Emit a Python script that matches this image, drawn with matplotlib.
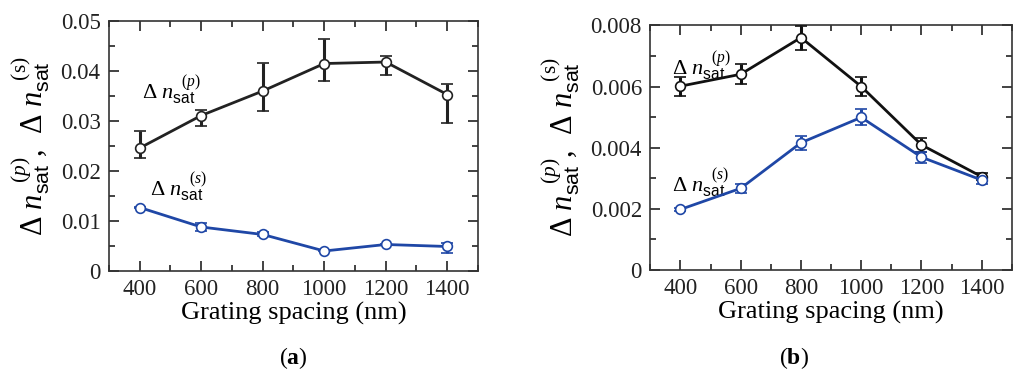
import matplotlib
matplotlib.use("Agg")
from matplotlib import pyplot as plt
from matplotlib.ticker import MultipleLocator, FuncFormatter

plt.rcParams['font.family'] = 'Liberation Serif'
plt.rcParams['mathtext.fontset'] = 'custom'
plt.rcParams['mathtext.rm'] = 'Liberation Serif'
plt.rcParams['mathtext.it'] = 'Liberation Serif:italic'
plt.rcParams['mathtext.bf'] = 'Liberation Serif:bold'
plt.rcParams['mathtext.sf'] = 'Liberation Sans'

spacing = [400, 600, 800, 1000, 1200, 1400]

# panel (a)
a_p = [0.0246, 0.0311, 0.0360, 0.0415, 0.0418, 0.0353]
a_p_lo = [0.0226, 0.0290, 0.0321, 0.0380, 0.0392, 0.0297]
a_p_hi = [0.0280, 0.0323, 0.0417, 0.0465, 0.0431, 0.0375]
a_s = [0.0127, 0.0088, 0.0073, 0.0040, 0.0053, 0.0049]
a_s_lo = [0.0126, 0.0080, 0.0069, 0.0039, 0.0052, 0.0036]
a_s_hi = [0.0128, 0.0096, 0.0077, 0.0041, 0.0054, 0.0055]

# panel (b)
b_p = [0.00601, 0.00640, 0.00760, 0.00600, 0.00409, 0.00305]
b_p_lo = [0.00569, 0.00607, 0.00719, 0.00569, 0.00387, 0.00294]
b_p_hi = [0.00631, 0.00672, 0.00798, 0.00631, 0.00430, 0.00316]
b_s = [0.00198, 0.00267, 0.00416, 0.00499, 0.00369, 0.00294]
b_s_lo = [0.00193, 0.00253, 0.00393, 0.00474, 0.00349, 0.00280]
b_s_hi = [0.00203, 0.00281, 0.00438, 0.00525, 0.00387, 0.00305]

blue = '#1f47a6'
ylab = (r'$\Delta\ n_{\mathsf{sat}}^{\ \ (p)}$,  '
        r'$\Delta\ n_{\mathsf{sat}}^{\ \ (\mathrm{s})}$')
lab_p = r'$\Delta\ n_{\mathsf{sat}}^{\ \ (p)}$'
lab_s = r'$\Delta\ n_{\mathsf{sat}}^{\ \ (s)}$'

fig = plt.figure(figsize=(10.24, 3.77), dpi=100)
ax1 = fig.add_axes([0.1064, 0.2812, 0.3604, 0.663])
ax2 = fig.add_axes([0.635, 0.2838, 0.3532, 0.649])


def series(ax, y, lo, hi, color):
    err = [[v - l for v, l in zip(y, lo)], [h - v for v, h in zip(y, hi)]]
    ax.errorbar(spacing, y, yerr=err, color=color, lw=2, marker='o',
                markersize=7, markerfacecolor='white', markeredgecolor=color,
                markeredgewidth=1.2, ecolor=color, elinewidth=2.2,
                capsize=4, capthick=2.2, zorder=3)


def style(ax, ymax, major, ndig):
    ax.set_xlim(300, 1500)
    ax.set_ylim(0, ymax)
    ax.xaxis.set_major_locator(MultipleLocator(200))
    ax.xaxis.set_minor_locator(MultipleLocator(100))
    ax.yaxis.set_major_locator(MultipleLocator(major))
    ax.yaxis.set_minor_locator(MultipleLocator(major / 2))
    ax.yaxis.set_major_formatter(FuncFormatter(
        lambda v, p: '0' if abs(v) < 1e-12 else f'{v:.{ndig}f}'))
    ax.tick_params(which='both', direction='in', top=True, right=True,
                   labelsize=16.5, width=1.2, colors='#222222')
    ax.tick_params(which='major', length=7, pad=6)
    ax.tick_params(which='minor', length=4)
    for s in ax.spines.values():
        s.set_linewidth(1.2)
        s.set_color('#333333')
    ax.set_xlabel('Grating spacing (nm)', fontsize=19, labelpad=1)
    ax.set_ylabel(ylab, fontsize=22, labelpad=6)


series(ax1, a_p, a_p_lo, a_p_hi, '#222222')
series(ax1, a_s, a_s_lo, a_s_hi, blue)
style(ax1, 0.05, 0.01, 2)
ax1.text(0.09, 0.69, lab_p, transform=ax1.transAxes, fontsize=16)
ax1.text(0.11, 0.30, lab_s, transform=ax1.transAxes, fontsize=16)
fig.text(0.2865, 0.035, r'$(\mathbf{a})$', fontsize=17, ha='center')

series(ax2, b_p, b_p_lo, b_p_hi, '#111111')
series(ax2, b_s, b_s_lo, b_s_hi, blue)
style(ax2, 0.008, 0.002, 3)
ax2.text(0.06, 0.80, lab_p, transform=ax2.transAxes, fontsize=16)
ax2.text(0.06, 0.32, lab_s, transform=ax2.transAxes, fontsize=16)
fig.text(0.775, 0.035, r'$(\mathbf{b})$', fontsize=17, ha='center')

fig.savefig('out.png', dpi=100)
